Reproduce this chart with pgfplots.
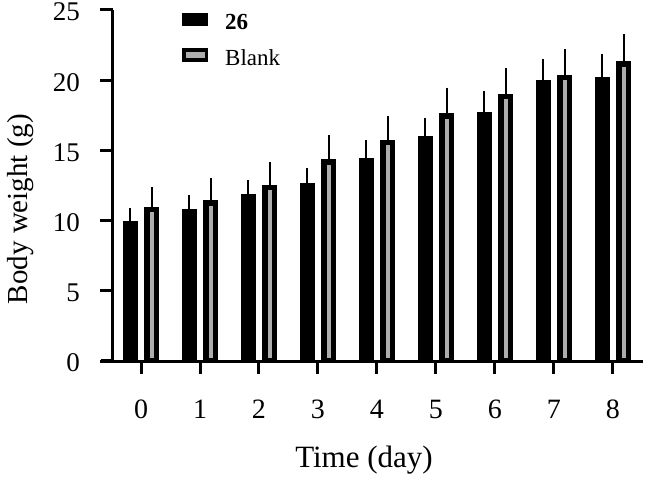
\documentclass[border=0pt]{standalone}
\usepackage{pgfplots}
\pgfplotsset{compat=1.18}
\usepackage{pgfplotstable}
\usepackage{fontspec}
\setmainfont{Liberation Serif}
\definecolor{barGray}{gray}{0.68}

\pgfplotstableread{
x  a     ea    b     eb
0  9.80  0.87  10.79 1.36
1  10.65 0.93  11.24 1.52
2  11.67 1.00  12.34 1.61
3  12.46 1.04  14.17 1.65
4  14.26 1.21  15.56 1.65
5  15.83 1.23  17.44 1.78
6  17.51 1.48  18.84 1.78
7  19.84 1.40  20.19 1.76
8  20.05 1.59  21.15 1.92
}\data

\begin{document}
\begin{tikzpicture}
\begin{axis}[
  at={(0,0)}, anchor=south west,
  scale only axis, width=530bp, height=351bp,
  xmin=-0.475, xmax=8.51, ymin=0, ymax=25,
  axis lines=left,
  axis line style={-, line width=3bp, black},
  axis on top,
  ytick={0,5,10,15,20,25}, xtick={0,1,2,3,4,5,6,7,8},
  tick align=outside, major tick length=13bp,
  tick style={line width=3bp, black},
  /pgf/number format/assume math mode=true,
  xticklabel style={font=\fontsize{28bp}{33bp}\selectfont, anchor=north, inner sep=0pt, yshift=-26bp},
  yticklabel style={font=\fontsize{27bp}{32bp}\selectfont, anchor=east, inner sep=0pt, xshift=-20bp, yshift=-2bp},
  xlabel={Time (day)},
  ylabel={Body weight (g)},
  xlabel style={at={(axis description cs:0.4736,0)}, anchor=base, yshift=-106bp, font=\fontsize{31bp}{36bp}\selectfont},
  ylabel style={at={(axis description cs:0,0.433)}, anchor=base, yshift=85bp, font=\fontsize{29bp}{34bp}\selectfont},
  ybar=12.2bp, bar width=9.5bp,
  every axis plot post/.append style={
    legend image code/.code={%
      \draw[##1, line width=3.5bp] (1.75bp,-1.8bp) rectangle (24.25bp,8.2bp);
      \pgfpathrectangle{\pgfpoint{0bp}{-14.65bp}}{\pgfpoint{26bp}{35.7bp}}%
      \pgfusepath{use as bounding box}}},
  legend style={at={(axis description cs:0.1302,1.0245)}, anchor=north west,
    draw=none, fill=none, inner sep=0pt, row sep=0pt,
    font=\fontsize{23bp}{27bp}\selectfont,
    nodes={inner sep=0pt},
    /tikz/every odd column/.append style={column sep=17bp}},
  legend cell align=left,
]
\addplot+[draw=black, fill=black, line width=5.5bp,
  error bars/.cd, y dir=plus, y explicit,
  error bar style={line width=2bp, black},
  error mark options={line width=2.5bp, mark size=3.5bp, black}]
  table[x=x, y=a, y error=ea]{\data};
\addlegendentry{\textbf{26}}
\addplot+[draw=black, fill=barGray, line width=5.5bp,
  error bars/.cd, y dir=plus, y explicit,
  error bar style={line width=2bp, black},
  error mark options={line width=2.5bp, mark size=3.5bp, black}]
  table[x=x, y=b, y error=eb]{\data};
\addlegendentry{Blank}
\end{axis}
\draw[line width=3bp] (-12bp,0) -- (0,0);
\pgfresetboundingbox
\path[use as bounding box] (-113bp,-118bp) rectangle (532bp,361bp);
\end{tikzpicture}
\end{document}
